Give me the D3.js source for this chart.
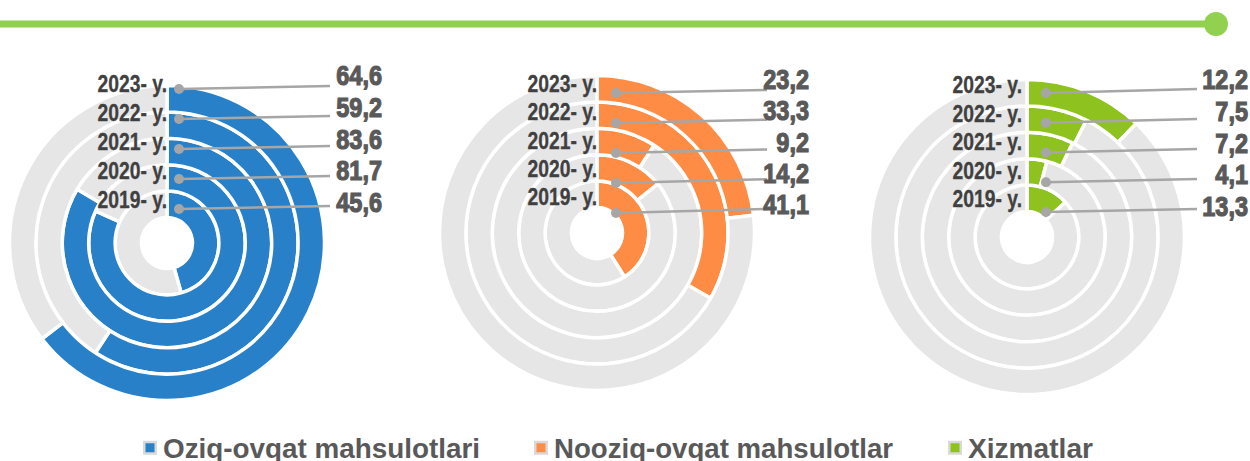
<!DOCTYPE html>
<html>
<head>
<meta charset="utf-8">
<script src="https://cdnjs.cloudflare.com/ajax/libs/d3/7.8.5/d3.min.js"></script>
<style>
body{margin:0;background:#fff;}
svg{display:block;}
text{font-family:"Liberation Sans",Arial,sans-serif;font-weight:bold;}
</style>
</head>
<body>
<div id="chart"></div>
<script>
// data
var years = ["2019- y.", "2020- y.", "2021- y.", "2022- y.", "2023- y."];
var oziqValues = [45.6, 81.7, 83.6, 59.2, 64.6];
var noozigValues = [41.1, 14.2, 9.2, 33.3, 23.2];
var xizmatValues = [13.3, 4.1, 7.2, 7.5, 12.2];
var seriesNames = ["Oziq-ovqat mahsulotlari", "Nooziq-ovqat mahsulotlar", "Xizmatlar"];
var seriesColors = ["#2880C8", "#FF8C44", "#8DC21F"];

var svgWidth = 1250;
var svgHeight = 461;

var ringGrey = "#E6E6E6";
var leaderGrey = "#A6A6A6";
var squeeze = 0.84;

var fmt = d3.formatLocale({decimal: ",", thousands: " ", grouping: [3], currency: ["", ""]}).format(".1f");

// panel layout (centre + label offsets relative to centre: [2019, 2023])
var panels = [
    {values: oziqValues, color: seriesColors[0], cx: 167, cy: 243,
     labelX: 0, labelY: [-35, -151], dotX: 12, dotY: [-34, -154],
     endX: 163, endY: [-37, -157], valX: 215, valY: [-31, -158]},
    {values: noozigValues, color: seriesColors[1], cx: 597, cy: 233,
     labelX: 0, labelY: [-28, -141], dotX: 19, dotY: [-20, -140],
     endX: 170, endY: [-24, -143], valX: 212, valY: [-19, -144]},
    {values: xizmatValues, color: seriesColors[2], cx: 1027, cy: 237,
     labelX: -5, labelY: [-30, -144], dotX: 19, dotY: [-25, -144],
     endX: 170, endY: [-28, -148], valX: 221, valY: [-21, -148]}
];

var svg = d3.select("#chart")
    .append("svg")
    .attr("width", svgWidth)
    .attr("height", svgHeight);

// top green rule
svg.append("line")
    .attr("x1", 0).attr("x2", 1216)
    .attr("y1", 24).attr("y2", 24)
    .attr("stroke", "#92D050")
    .attr("stroke-width", 7);
svg.append("circle")
    .attr("cx", 1216).attr("cy", 24).attr("r", 12)
    .attr("fill", "#92D050");

// ring scales
var radius = d3.scaleBand().domain(years).range([25.5, 157.5]).padding(0);
var pie = d3.pie().sort(null).value(d => d);
var angle = d3.scaleLinear().domain([0, 100]).range([0, 2 * Math.PI]);

panels.forEach(p => {
    var g = svg.append("g").attr("transform", `translate(${p.cx}, ${p.cy})`);

    years.forEach((yr, i) => {
        var arc = d3.arc()
            .innerRadius(radius(yr))
            .outerRadius(radius(yr) + radius.bandwidth());
        var slices = pie([p.values[i], 100 - p.values[i]]);
        g.selectAll(null)
            .data(slices)
            .enter()
            .append("path")
            .attr("d", d => arc({startAngle: angle(d.startAngle / (2 * Math.PI) * 100), endAngle: angle(d.endAngle / (2 * Math.PI) * 100)}))
            .attr("fill", (d, j) => j === 0 ? p.color : ringGrey)
            .attr("stroke", "#fff")
            .attr("stroke-width", 3.5);
    });

    var labelY = d3.scalePoint().domain(years).range(p.labelY);
    var dotY = d3.scalePoint().domain(years).range(p.dotY);
    var endY = d3.scalePoint().domain(years).range(p.endY);
    var valY = d3.scalePoint().domain(years).range(p.valY);

    // leader lines
    g.selectAll(null)
        .data(years)
        .enter()
        .append("line")
        .attr("x1", p.dotX).attr("y1", d => dotY(d))
        .attr("x2", p.endX).attr("y2", d => endY(d))
        .attr("stroke", leaderGrey)
        .attr("stroke-width", 2.5);

    g.selectAll(null)
        .data(years)
        .enter()
        .append("circle")
        .attr("cx", p.dotX).attr("cy", d => dotY(d))
        .attr("r", 5)
        .attr("fill", leaderGrey);

    // year labels
    g.selectAll(null)
        .data(years)
        .enter()
        .append("text")
        .attr("transform", d => `translate(${p.labelX}, ${labelY(d)}) scale(${squeeze}, 1)`)
        .attr("text-anchor", "end")
        .attr("font-size", 23)
        .attr("fill", "#404040")
        .attr("stroke", "#404040")
        .attr("stroke-width", 0.3)
        .text(d => d);

    // values
    g.selectAll(null)
        .data(years)
        .enter()
        .append("text")
        .attr("transform", d => `translate(${p.valX}, ${valY(d)}) scale(${squeeze}, 1)`)
        .attr("text-anchor", "end")
        .attr("font-size", 28)
        .attr("fill", "#595959")
        .attr("stroke", "#595959")
        .attr("stroke-width", 1.2)
        .text((d, i) => fmt(p.values[i]));
});

// legend
var legendX = [143, 534, 948];
var legendWidths = [317, 339, 125];
var legend = svg.append("g");
seriesNames.forEach((name, i) => {
    legend.append("rect")
        .attr("x", legendX[i] + 1.25).attr("y", 442)
        .attr("width", 11.5).attr("height", 11.5)
        .attr("fill", seriesColors[i])
        .attr("stroke", "#D9D9D9")
        .attr("stroke-width", 2.5);
    legend.append("text")
        .attr("x", legendX[i] + 20)
        .attr("y", 458)
        .attr("font-size", 28)
        .attr("fill", "#595959")
        .attr("textLength", legendWidths[i])
        .attr("lengthAdjust", "spacingAndGlyphs")
        .text(name);
});
</script>
</body>
</html>
